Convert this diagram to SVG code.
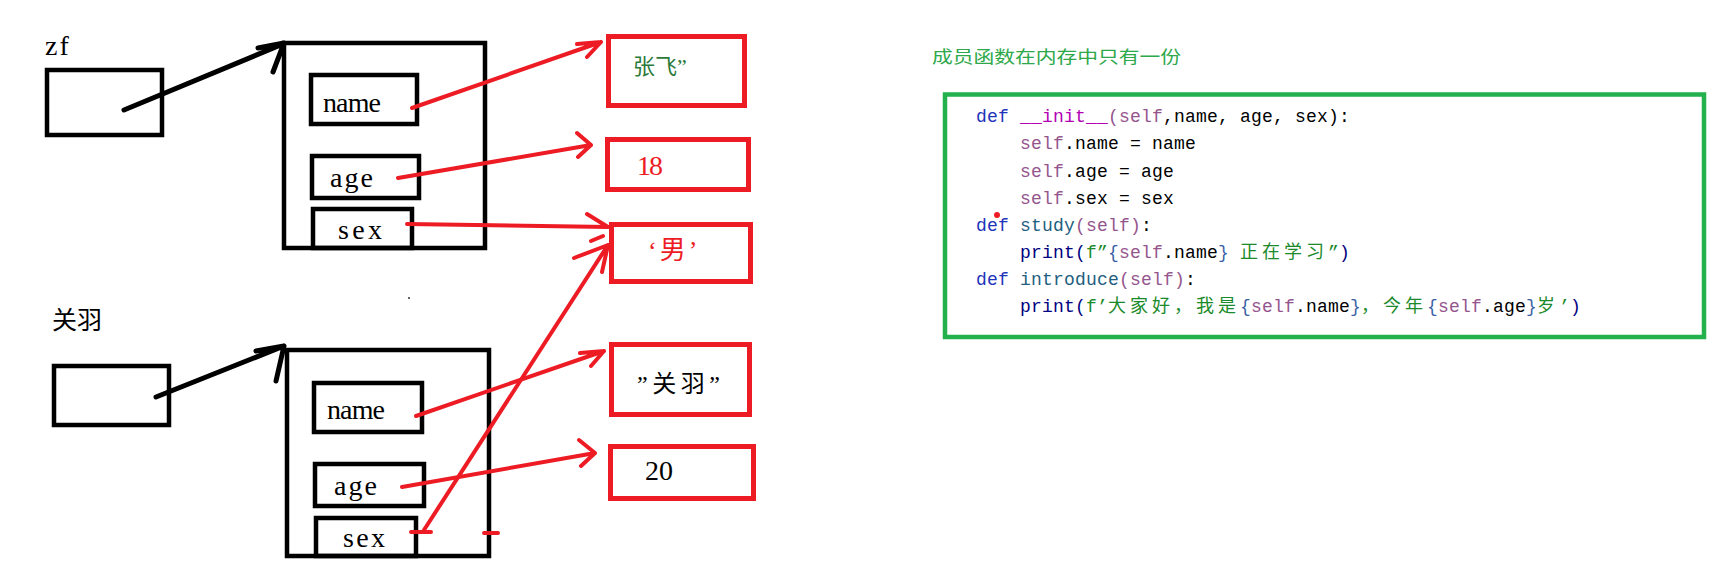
<svg xmlns="http://www.w3.org/2000/svg" width="1720" height="578" viewBox="0 0 1720 578">
<style>
.bk{fill:none;stroke:#000;stroke-width:4.5}
.rb{fill:none;stroke:#ed1c24;stroke-width:5}
.ca{fill:none;stroke:#000;stroke-width:5;stroke-linecap:round;stroke-linejoin:round}
.cr{fill:none;stroke:#ed1c24;stroke-width:4;stroke-linecap:round;stroke-linejoin:round}
.lbl{font-family:"Liberation Serif","Noto Sans CJK SC",serif;font-size:28px;fill:#000}
.cjk{font-family:"Liberation Serif","Noto Sans CJK SC",sans-serif;fill:#000}
.code{font-family:"Liberation Mono","Noto Sans CJK SC",monospace;font-size:18px;fill:#000;letter-spacing:0.2px}
.kw{fill:#2233bb}.fn{fill:#b200b2}.sf{fill:#94558d}.nm{fill:#1f6080}.pr{fill:#000080}.st{fill:#1a8a2a}.br{fill:#3a5fa5}
.w{letter-spacing:4px}
</style>
<rect width="1720" height="578" fill="#fff"/>

<g id="var-zf">
<text class="lbl" x="45" y="55" letter-spacing="2">zf</text>
<rect class="bk" x="47" y="70" width="115" height="65"/>
</g>
<g id="obj-zf">
<rect class="bk" x="284" y="43" width="201" height="205"/>
<rect class="bk" x="311" y="75" width="106" height="49"/>
<text class="lbl" x="323" y="112" textLength="58">name</text>
<rect class="bk" x="312" y="156" width="107" height="42"/>
<text class="lbl" x="330" y="187" textLength="43">age</text>
<rect class="bk" x="313" y="209" width="99" height="39"/>
<text class="lbl" x="338" y="239" textLength="44">sex</text>
</g>

<g id="var-guanyu">
<text class="cjk" x="52" y="329" font-size="25">关羽</text>
<rect class="bk" x="54" y="366" width="115" height="59"/>
</g>
<g id="obj-guanyu">
<rect class="bk" x="287" y="350" width="202" height="206"/>
<rect class="bk" x="314" y="383" width="108" height="49"/>
<text class="lbl" x="327" y="419" textLength="58">name</text>
<rect class="bk" x="315" y="464" width="109" height="42"/>
<text class="lbl" x="334" y="495" textLength="43">age</text>
<rect class="bk" x="316" y="518" width="100" height="38"/>
<text class="lbl" x="343" y="547" textLength="42">sex</text>
</g>

<g id="val-zhangfei">
<rect class="rb" x="608.5" y="36.5" width="136" height="69"/>
<text class="cjk" x="633" y="74" font-size="22" style="fill:#2a7a3a">张飞”</text>
</g>
<g id="val-18">
<rect class="rb" x="607.5" y="139.5" width="141" height="50"/>
<text class="lbl" x="637" y="175" font-size="26" style="fill:#ed1c24" textLength="26">18</text>
</g>
<g id="val-male">
<rect class="rb" x="611.5" y="224.5" width="139" height="57"/>
<text class="cjk" x="648" y="259" font-size="26" style="fill:#ed1c24" letter-spacing="3">‘男’</text>
</g>
<g id="val-guanyu">
<rect class="rb" x="611.5" y="344.5" width="138" height="70"/>
<text class="cjk" x="637" y="392" font-size="24" textLength="83">”关羽”</text>
</g>
<g id="val-20">
<rect class="rb" x="610.5" y="446.5" width="143" height="52"/>
<text class="lbl" x="645" y="480" font-size="26" textLength="28">20</text>
</g>

<g id="connectors">
<path class="ca" d="M124 110 L283 44 M258 48 L284 43 L273 72"/>
<path class="ca" d="M156 397 L284 346 M256 351 L284 346 L276 381"/>
<path class="cr" d="M412 108 L601 42 M577 44 L601 42 L587 57"/>
<path class="cr" d="M398 178 L591 145 M577 133 L591 145 L578 157"/>
<path class="cr" d="M407 224 L608 227 M587 214 L608 227 M591 241 L603 236"/>
<path class="cr" d="M416 416 L604 351 M580 353 L604 351 L591 366"/>
<path class="cr" d="M402 487 L595 453 M579 440 L595 453 L581 466"/>
<path class="cr" d="M424 530 L608 245 M574 258 L608 245 L602 272"/>
<path class="cr" d="M411 532 L431 532 M484 533 L498 533" stroke-linecap="butt" stroke-width="4.5"/>
</g>
<circle cx="409" cy="298" r="1" fill="#333"/>

<g id="note">
<text x="932" y="63" font-family="'Noto Sans CJK SC',sans-serif" font-size="17" fill="#2ea84a" textLength="249" lengthAdjust="spacingAndGlyphs">成员函数在内存中只有一份</text>
</g>

<g id="code">
<rect x="945" y="94.5" width="759" height="242.5" fill="none" stroke="#22b14c" stroke-width="4.5"/>
<text class="code" y="122"><tspan class="kw" x="976">def</tspan><tspan class="fn" x="1020">__init__</tspan><tspan class="sf" x="1108">(self</tspan><tspan x="1163">,name, age, sex):</tspan></text>
<text class="code" y="149"><tspan class="sf" x="1020">self</tspan><tspan x="1064">.name = name</tspan></text>
<text class="code" y="177"><tspan class="sf" x="1020">self</tspan><tspan x="1064">.age = age</tspan></text>
<text class="code" y="204"><tspan class="sf" x="1020">self</tspan><tspan x="1064">.sex = sex</tspan></text>
<text class="code" y="231"><tspan class="kw" x="976">def</tspan><tspan class="nm" x="1020">study</tspan><tspan class="sf" x="1075">(self)</tspan><tspan x="1141">:</tspan></text>
<text class="code" y="258"><tspan class="pr" x="1020">print(</tspan><tspan class="st" x="1086">f”</tspan><tspan class="br" x="1108">{</tspan><tspan class="sf" x="1119">self</tspan><tspan x="1163">.name</tspan><tspan class="br" x="1218">}</tspan><tspan class="st w" x="1240">正在学习</tspan><tspan class="st" x="1328">”</tspan><tspan class="pr" x="1339">)</tspan></text>
<text class="code" y="285"><tspan class="kw" x="976">def</tspan><tspan class="nm" x="1020">introduce</tspan><tspan class="sf" x="1119">(self)</tspan><tspan x="1185">:</tspan></text>
<text class="code" y="312"><tspan class="pr" x="1020">print(</tspan><tspan class="st" x="1086">f’</tspan><tspan class="st w" x="1108">大家好，我是</tspan><tspan class="br" x="1240">{</tspan><tspan class="sf" x="1251">self</tspan><tspan x="1295">.name</tspan><tspan class="br" x="1350">}</tspan><tspan class="st w" x="1361">，今年</tspan><tspan class="br" x="1427">{</tspan><tspan class="sf" x="1438">self</tspan><tspan x="1482">.age</tspan><tspan class="br" x="1526">}</tspan><tspan class="st" x="1537">岁</tspan><tspan class="st" x="1559">’</tspan><tspan class="pr" x="1570">)</tspan></text>
<circle cx="997" cy="215" r="3" fill="#ed1c24"/>
</g>
</svg>
